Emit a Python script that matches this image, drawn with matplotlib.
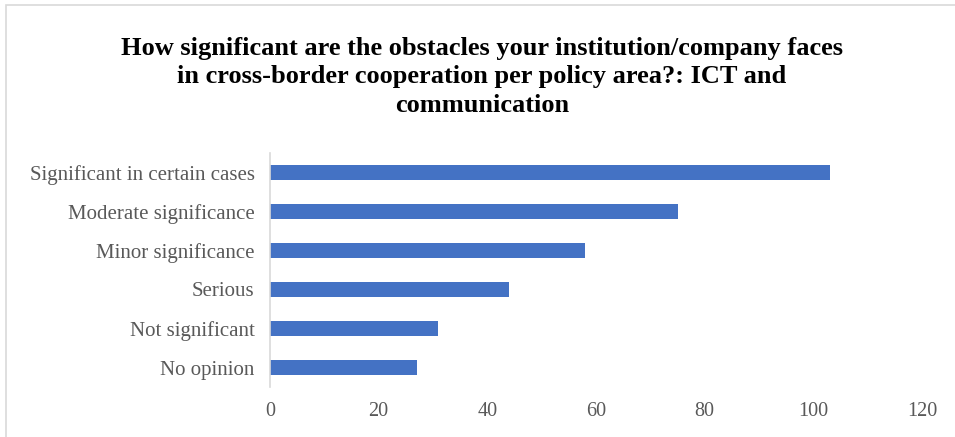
import matplotlib.pyplot as plt
from matplotlib.patches import Rectangle

categories = ['No opinion', 'Not significant', 'Serious', 'Minor significance',
              'Moderate significance', 'Significant in certain cases']
counts = [27, 31, 44, 58, 75, 103]
xticks = [0, 20, 40, 60, 80, 100, 120]

title = ('How significant are the obstacles your institution/company faces\n'
         'in cross-border cooperation per policy area?: ICT and\ncommunication')

plt.rcParams['font.family'] = 'Liberation Serif'

fig = plt.figure(figsize=(9.55, 4.37), dpi=100)
ax = fig.add_axes([270/955, 50/437, 652/955, 234/437])

ax.barh(range(len(categories)), counts, height=0.4, color='#4472c4')
ax.set_xlim(0, 120)
ax.set_ylim(-0.5, len(categories) - 0.5)
ax.set_xticks(xticks)
ax.set_yticks(range(len(categories)))
ax.set_yticklabels(categories)
ax.tick_params(axis='x', length=0, labelsize=14.5, colors='#595959', pad=11)
ax.tick_params(axis='y', length=0, labelsize=15, colors='#595959', pad=11)
for s in ['top', 'right', 'bottom']:
    ax.spines[s].set_visible(False)
ax.spines['left'].set_color('#d9d9d9')
ax.spines['left'].set_linewidth(1.2)

# chart frame
fig.patches.append(Rectangle((6/955, -0.1), 1.2, 1 - 5/437 + 0.1,
                             transform=fig.transFigure, fill=False,
                             edgecolor='#d9d9d9', linewidth=1.2))

fig.text(482/955, 1 - 77/437, title, ha='center', va='center',
         fontsize=19, fontweight='bold', linespacing=1.28)

fig.savefig('out.png', dpi=100)
